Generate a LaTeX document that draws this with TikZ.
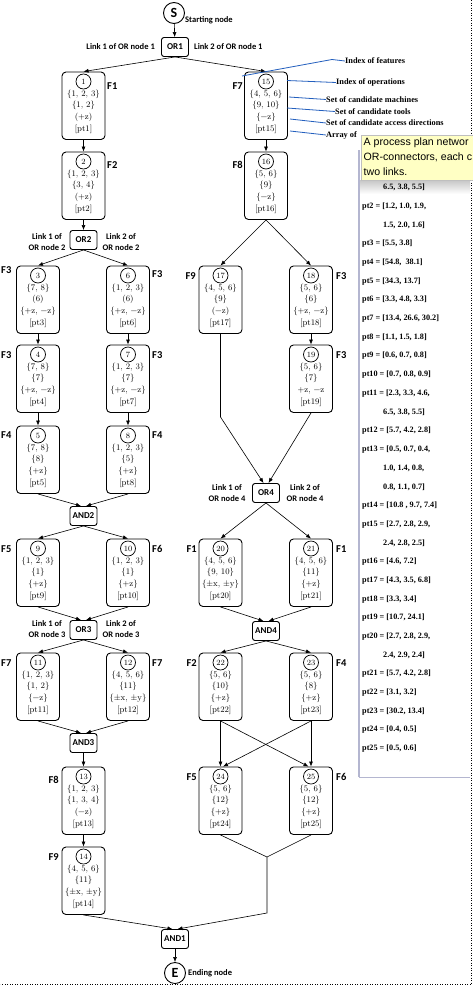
\documentclass[tikz,border=0pt]{standalone}
\usepackage{fontspec}
\usetikzlibrary{arrows.meta,calc}
\newfontfamily\carlito{Carlito}
\newfontfamily\timesf{Liberation Serif}
\newfontfamily\arialf{Liberation Sans}
\definecolor{annblue}{RGB}{35,95,190}
\definecolor{tipyellow}{RGB}{255,255,196}
\definecolor{panelborder}{RGB}{180,182,208}
\tikzset{
  opbox/.style={draw, rounded corners=4pt, line width=0.9pt, minimum width=43pt, minimum height=67.5pt, inner sep=0pt},
  opnum/.style={draw, circle, line width=0.7pt, minimum size=15pt, inner sep=0pt, font=\fontsize{8}{9}\selectfont},
  optext/.style={inner sep=0pt, text height=6pt, text depth=2pt, font=\fontsize{8.5}{10}\selectfont},
  gate/.style={draw, rounded corners=2.5pt, line width=0.9pt, minimum width=27pt, minimum height=19pt, inner sep=0pt, font=\carlito\bfseries\fontsize{9}{10}\selectfont},
  term/.style={draw, circle, line width=0.9pt, minimum size=21pt, inner sep=0pt, font=\carlito\bfseries\fontsize{14}{15}\selectfont},
  flab/.style={inner sep=0pt, font=\carlito\bfseries\fontsize{10.5}{12}\selectfont},
  linklab/.style={inner sep=0pt, align=center, font=\carlito\bfseries\fontsize{8.5}{10.5}\selectfont},
  arr/.style={line width=0.6pt, -{Latex[length=5pt,width=4pt]}},
  conn/.style={line width=0.6pt},
  annline/.style={draw=annblue, line width=0.8pt},
  anntext/.style={inner sep=0pt, anchor=west, font=\timesf\bfseries\fontsize{8.3}{10}\selectfont},
  ptline/.style={inner sep=0pt, anchor=west, font=\timesf\bfseries\fontsize{8.2}{10}\selectfont},
  tiptext/.style={inner sep=0pt, anchor=west, font=\arialf\fontsize{10.6}{12}\selectfont}
}
\newcommand\OpBox[8]{%
  \node[opbox] (#1) at (#2,#3+33.75) {};
  \node[opnum] (#1c) at (#2,#3+9.5) {#4};
  \node[optext] (#1a) at (#2,#3+22) {#5};
  \node[optext] (#1b) at (#2,#3+33.7) {#6};
  \node[optext] (#1d) at (#2,#3+45.4) {#7};
  \node[optext] (#1e) at (#2,#3+57.1) {#8};
}
\begin{document}
\begin{tikzpicture}[x=1pt,y=-1pt]
\useasboundingbox (0,0) rectangle (473,985);
\fill[white] (0,0) rectangle (473,985);

% frame (dotted)
\draw[dotted, line width=0.5pt] (471,0) -- (471,984) -- (0,984);

% terminals and gates
\node[term] (s) at (174,13) {S};
\node[linklab, anchor=west] (stxt) at (185,20) {Starting node};
\node[gate] (or1) at (175,47) {OR1};
\node[gate] (or2) at (83.5,240) {OR2};
\node[gate] (and2) at (83.5,516) {AND2};
\node[gate] (or3) at (83.5,630) {OR3};
\node[gate] (and3) at (83.5,743) {AND3};
\node[gate] (or4) at (266,493) {OR4};
\node[gate] (and4) at (266,631) {AND4};
\node[gate] (and1) at (175,939) {AND1};
\node[term] (e) at (175,973) {E};
\node[linklab, anchor=west] (etxt) at (188,973) {Ending node};

% link labels
\node[linklab, anchor=east] (l11) at (155,47) {Link 1 of OR node 1};
\node[linklab, anchor=west] (l12) at (194,47) {Link 2 of OR node 1};
\node[linklab] (l21) at (47,242) {Link 1 of\\OR node 2};
\node[linklab] (l22) at (121,242) {Link 2 of\\OR node 2};
\node[linklab] (l31) at (47,629) {Link 1 of\\OR node 3};
\node[linklab] (l32) at (121,629) {Link 2 of\\OR node 3};
\node[linklab] (l41) at (227,493) {Link 1 of\\OR node 4};
\node[linklab] (l42) at (305,493) {Link 2 of\\OR node 4};

% operation boxes
\OpBox{b1}{83.5}{72}{1}{\{1, 2, 3\}}{\{1, 2\}}{(+z)}{[pt1]}
\OpBox{b2}{83.5}{152}{2}{\{1, 2, 3\}}{\{3, 4\}}{(+z)}{[pt2]}
\OpBox{b3}{38}{266}{3}{\{7, 8\}}{(6)}{\{+z, −z\}}{[pt3]}
\OpBox{b4}{38}{345}{4}{\{7, 8\}}{\{7\}}{\{+z, −z\}}{[pt4]}
\OpBox{b5}{38}{426}{5}{\{7, 8\}}{\{8\}}{\{+z\}}{[pt5]}
\OpBox{b6}{128}{266}{6}{\{1, 2, 3\}}{(6)}{\{+z, −z\}}{[pt6]}
\OpBox{b7}{128}{345}{7}{\{1, 2, 3\}}{\{7\}}{\{+z, −z\}}{[pt7]}
\OpBox{b8}{128}{426}{8}{\{1, 2, 3\}}{\{5\}}{\{+z\}}{[pt8]}
\OpBox{b9}{38}{539}{9}{\{1, 2, 3\}}{\{1\}}{\{+z\}}{[pt9]}
\OpBox{b10}{128}{539}{10}{\{1, 2, 3\}}{\{1\}}{\{+z\}}{[pt10]}
\OpBox{b11}{38}{653}{11}{\{1, 2, 3\}}{\{1, 2\}}{\{−z\}}{[pt11]}
\OpBox{b12}{128}{653}{12}{\{4, 5, 6\}}{\{11\}}{\{±x, ±y\}}{[pt12]}
\OpBox{b13}{83.5}{767}{13}{\{1, 2, 3\}}{\{1, 3, 4\}}{(−z)}{[pt13]}
\OpBox{b14}{83.5}{847}{14}{\{4, 5, 6\}}{\{11\}}{\{±x, ±y\}}{[pt14]}
\OpBox{b15}{266}{72}{15}{\{4, 5, 6\}}{\{9, 10\}}{\{−z\}}{[pt15]}
\OpBox{b16}{266}{152}{16}{\{5, 6\}}{\{9\}}{\{−z\}}{[pt16]}
\OpBox{b17}{220.5}{266}{17}{\{4, 5, 6\}}{\{9\}}{(−z)}{[pt17]}
\OpBox{b18}{311}{266}{18}{\{5, 6\}}{\{6\}}{\{+z, −z\}}{[pt18]}
\OpBox{b19}{311}{345}{19}{\{5, 6\}}{\{7\}}{+z, −z}{[pt19]}
\OpBox{b20}{220.5}{539}{20}{\{4, 5, 6\}}{\{9, 10\}}{\{±x, ±y\}}{[pt20]}
\OpBox{b21}{311}{539}{21}{\{4, 5, 6\}}{\{11\}}{\{+z\}}{[pt21]}
\OpBox{b22}{220.5}{653}{22}{\{5, 6\}}{\{10\}}{\{+z\}}{[pt22]}
\OpBox{b23}{311}{653}{23}{\{5, 6\}}{\{8\}}{\{+z\}}{[pt23]}
\OpBox{b24}{220.5}{767}{24}{\{5, 6\}}{\{12\}}{\{+z\}}{[pt24]}
\OpBox{b25}{311}{767}{25}{\{5, 6\}}{\{12\}}{\{+z\}}{[pt25]}

% feature labels
\node[flab, anchor=west] (f1) at (107,86) {F1};
\node[flab, anchor=west] (f2) at (107,165) {F2};
\node[flab, anchor=west] (f3a) at (1,270) {F3};
\node[flab, anchor=west] (f3b) at (1,355) {F3};
\node[flab, anchor=west] (f4a) at (1,435) {F4};
\node[flab, anchor=west] (f5a) at (1,549) {F5};
\node[flab, anchor=west] (f7a) at (1,663) {F7};
\node[flab, anchor=west] (f3c) at (152,274) {F3};
\node[flab, anchor=west] (f3d) at (152,355) {F3};
\node[flab, anchor=west] (f4b) at (152,435) {F4};
\node[flab, anchor=west] (f6a) at (152,549) {F6};
\node[flab, anchor=west] (f7b) at (152,663) {F7};
\node[flab, anchor=east] (f8a) at (59,780) {F8};
\node[flab, anchor=east] (f9a) at (59,857) {F9};
\node[flab, anchor=east] (f7c) at (243,86) {F7};
\node[flab, anchor=east] (f8b) at (243,165) {F8};
\node[flab, anchor=east] (f9b) at (196,276) {F9};
\node[flab, anchor=west] (f3e) at (336,276) {F3};
\node[flab, anchor=west] (f3f) at (336,355) {F3};
\node[flab, anchor=east] (f1b) at (197,549) {F1};
\node[flab, anchor=west] (f1c) at (336,549) {F1};
\node[flab, anchor=east] (f2b) at (197,663) {F2};
\node[flab, anchor=west] (f4c) at (336,663) {F4};
\node[flab, anchor=east] (f5b) at (197,777) {F5};
\node[flab, anchor=west] (f6b) at (336,777) {F6};

% connectors
\draw[arr] (s) -- (or1);
\draw[arr] (or1.south) -- (b1.north);
\draw[arr] (or1.south) -- (b15.north);
\draw[arr] (b1) -- (b2);
\draw[arr] (b2) -- (or2);
\draw[arr] (or2.south) -- (b3.north);
\draw[arr] (or2.south) -- (b6.north);
\draw[arr] (b3) -- (b4);
\draw[arr] (b4) -- (b5);
\draw[arr] (b6) -- (b7);
\draw[arr] (b7) -- (b8);
\draw[arr] (b5.south) -- ([xshift=-2.5pt]and2.north);
\draw[arr] (b8.south) -- ([xshift=2.5pt]and2.north);
\draw[arr] (and2.south) -- (b9.north);
\draw[arr] (and2.south) -- (b10.north);
\draw[arr] (b9.south) -- ([xshift=-2.5pt]or3.north);
\draw[arr] (b10.south) -- ([xshift=2.5pt]or3.north);
\draw[arr] (or3.south) -- (b11.north);
\draw[arr] (or3.south) -- (b12.north);
\draw[arr] (b11.south) -- ([xshift=-2.5pt]and3.north);
\draw[arr] (b12.south) -- ([xshift=2.5pt]and3.north);
\draw[arr] (and3) -- (b13);
\draw[arr] (b13) -- (b14);
\draw[arr] (b14.south) -- ([xshift=-2.5pt]and1.north);

\draw[arr] (b15) -- (b16);
\draw[arr] (b16.south) -- (b17.north);
\draw[arr] (b16.south) -- (b18.north);
\draw[arr] (b18) -- (b19);
\coordinate (k17) at (220.5,417);
\draw[arr] (b17.south) -- (k17) -- ([xshift=-2.5pt]or4.north);
\draw[arr] (b19.south) -- ([xshift=2.5pt]or4.north);
\draw[arr] (or4.south) -- (b20.north);
\draw[arr] (or4.south) -- (b21.north);
\draw[arr] (b20.south) -- ([xshift=-2.5pt]and4.north);
\draw[arr] (b21.south) -- ([xshift=2.5pt]and4.north);
\draw[arr] (and4.south) -- (b22.north);
\draw[arr] (and4.south) -- (b23.north);
\draw[arr] (b22.south) -- (b24.north);
\draw[arr] (b22.south) -- ([xshift=-2.5pt]b25.north);
\draw[arr] (b23.south) -- (b25.north);
\draw[arr] (b23.south) -- ([xshift=2.5pt]b24.north);
\coordinate (j1) at (267,857);
\coordinate (j2) at (267,913);
\draw[conn] (b24.south) -- (j1) -- (b25.south);
\draw[arr] (j1) -- (j2) -- ([xshift=2.5pt]and1.north);
\draw[arr] (and1) -- (e);

% annotations
\node[anntext] (a1) at (345,61) {Index of features};
\node[anntext] (a2) at (336,82.5) {Index of operations};
\node[anntext] (a3) at (326,99.5) {Set of candidate machines};
\node[anntext] (a4) at (335,111.5) {Set of candidate tools};
\node[anntext] (a5) at (326,123) {Set of candidate access directions};
\node[anntext] (a6) at (326,135) {Array of};
\coordinate (p1) at (242,76);
\coordinate (p2) at (287,80.5);
\coordinate (p3) at (289,97);
\coordinate (p4) at (287,108);
\coordinate (p5) at (290,119);
\coordinate (p6) at (290,131);
\draw[annline] (p1) -- (332,59.5) -- (a1.west);
\draw[annline] (p2) -- (a2.west);
\draw[annline] (p3) -- (a3.west);
\draw[annline] (p4) -- (a4.west);
\draw[annline] (p5) -- (a5.west);
\draw[annline] (p6) -- (a6.west);

% right panel of processing times
\fill[white] (359,150) rectangle (470,777);
\shade[top color=gray!45, bottom color=white] (359,180) rectangle (470,194);
\draw[panelborder, line width=1.6pt] (359,150) -- (359,777);
\draw[panelborder, line width=0.8pt] (359,777) -- (470,777);
\node[ptline] (q1) at (383,187.7) {6.5, 3.8, 5.5]};
\node[ptline] (q2) at (362,206.4) {pt2 = [1.2, 1.0, 1.9,};
\node[ptline] (q3) at (383,225.1) {1.5, 2.0, 1.6]};
\node[ptline] (q4) at (362,243.8) {pt3 = [5.5, 3.8]};
\node[ptline] (q5) at (362,262.5) {pt4 = [54.8,\ \ 38.1]};
\node[ptline] (q6) at (362,281.2) {pt5 = [34.3, 13.7]};
\node[ptline] (q7) at (362,299.9) {pt6 = [3.3, 4.8, 3.3]};
\node[ptline] (q8) at (362,318.6) {pt7 = [13.4, 26.6, 30.2]};
\node[ptline] (q9) at (362,337.3) {pt8 = [1.1, 1.5, 1.8]};
\node[ptline] (q10) at (362,356) {pt9 = [0.6, 0.7, 0.8]};
\node[ptline] (q11) at (362,374.7) {pt10 = [0.7, 0.8, 0.9]};
\node[ptline] (q12) at (362,393.4) {pt11 = [2.3, 3.3, 4.6,};
\node[ptline] (q13) at (383,412.1) {6.5, 3.8, 5.5]};
\node[ptline] (q14) at (362,430.8) {pt12 = [5.7, 4.2, 2.8]};
\node[ptline] (q15) at (362,449.5) {pt13 = [0.5, 0.7, 0.4,};
\node[ptline] (q16) at (383,468.2) {1.0, 1.4, 0.8,};
\node[ptline] (q17) at (383,486.9) {0.8, 1.1, 0.7]};
\node[ptline] (q18) at (362,505.6) {pt14 = [10.8 , 9.7, 7.4]};
\node[ptline] (q19) at (362,524.3) {pt15 = [2.7, 2.8, 2.9,};
\node[ptline] (q20) at (383,543) {2.4, 2.8, 2.5]};
\node[ptline] (q21) at (362,561.7) {pt16 = [4.6, 7.2]};
\node[ptline] (q22) at (362,580.4) {pt17 = [4.3, 3.5, 6.8]};
\node[ptline] (q23) at (362,599.1) {pt18 = [3.3, 3.4]};
\node[ptline] (q24) at (362,617.8) {pt19 = [10.7, 24.1]};
\node[ptline] (q25) at (362,636.5) {pt20 = [2.7, 2.8, 2.9,};
\node[ptline] (q26) at (383,655.2) {2.4, 2.9, 2.4]};
\node[ptline] (q27) at (362,673.9) {pt21 = [5.7, 4.2, 2.8]};
\node[ptline] (q28) at (362,692.6) {pt22 = [3.1, 3.2]};
\node[ptline] (q29) at (362,711.3) {pt23 = [30.2, 13.4]};
\node[ptline] (q30) at (362,730) {pt24 = [0.4, 0.5]};
\node[ptline] (q31) at (362,748.7) {pt25 = [0.5, 0.6]};

% tooltip
\begin{scope}
\clip (0,0) rectangle (473,985);
\fill[tipyellow] (361,135) rectangle (476,180);
\draw[gray!50, line width=0.5pt] (476,135) -- (361,135) -- (361,180) -- (476,180);
\node[tiptext] (t1) at (363.5,143) {A process plan networ};
\node[tiptext] (t2) at (363.5,157.5) {OR-connectors, each c};
\node[tiptext] (t3) at (363.5,172) {two links.};
\end{scope}
\end{tikzpicture}
\end{document}
